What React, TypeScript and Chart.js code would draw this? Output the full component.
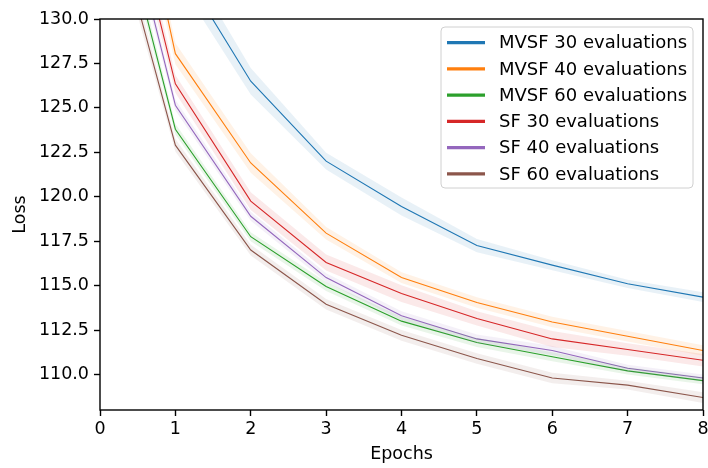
import React, { useEffect, useRef } from "react";
import { Chart, registerables } from "chart.js";

Chart.register(...registerables);

const epochs = [0, 1, 2, 3, 4, 5, 6, 7, 8];
const yTicks = [110, 112.5, 115, 117.5, 120, 122.5, 125, 127.5, 130];

const seriesNames = [
  "MVSF 30 evaluations",
  "MVSF 40 evaluations",
  "MVSF 60 evaluations",
  "SF 30 evaluations",
  "SF 40 evaluations",
  "SF 60 evaluations",
];
const seriesColors = ["#1f77b4", "#ff7f0e", "#2ca02c", "#d62728", "#9467bd", "#8c564b"];

const mvsf30 = [152, 133.4, 126.5, 122.0, 119.45, 117.25, 116.15, 115.1, 114.35];
const mvsf40 = [147.5, 128.05, 121.9, 117.95, 115.45, 114.05, 112.95, 112.15, 111.35];
const mvsf60 = [140.4, 123.8, 117.75, 114.95, 113.0, 111.8, 111.0, 110.2, 109.65];
const sf30 = [143.6, 126.35, 119.75, 116.3, 114.55, 113.15, 112.0, 111.4, 110.8];
const sf40 = [142.1, 125.15, 118.9, 115.45, 113.3, 112.0, 111.35, 110.35, 109.8];
const sf60 = [138.6, 122.9, 117.0, 113.95, 112.2, 110.9, 109.8, 109.4, 108.7];

const mvsf30Spread = [1.5, 1.0, 0.75, 0.47, 0.5, 0.37, 0.28, 0.23, 0.28];
const mvsf40Spread = [1.2, 0.6, 0.55, 0.35, 0.3, 0.3, 0.3, 0.3, 0.3];
const mvsf60Spread = [0.8, 0.3, 0.25, 0.25, 0.25, 0.25, 0.25, 0.2, 0.2];
const sf30Spread = [1.0, 0.5, 0.5, 0.45, 0.47, 0.4, 0.45, 0.35, 0.35];
const sf40Spread = [0.8, 0.3, 0.25, 0.25, 0.25, 0.25, 0.25, 0.2, 0.2];
const sf60Spread = [0.8, 0.35, 0.3, 0.3, 0.3, 0.3, 0.3, 0.25, 0.3];

const seriesMeans = [mvsf30, mvsf40, mvsf60, sf30, sf40, sf60];
const seriesSpreads = [mvsf30Spread, mvsf40Spread, mvsf60Spread, sf30Spread, sf40Spread, sf60Spread];

const FONT = "'DejaVu Sans', sans-serif";
const FS = 17.5;
const LEGEND_FS = 18;

function hexA(hex: string, a: number) {
  const r = parseInt(hex.slice(1, 3), 16);
  const g = parseInt(hex.slice(3, 5), 16);
  const b = parseInt(hex.slice(5, 7), 16);
  return `rgba(${r},${g},${b},${a})`;
}

const framePlugin = {
  id: "frameAndLegend",
  afterDraw(chart: any) {
    const { ctx, chartArea } = chart;
    ctx.save();
    ctx.strokeStyle = "#000";
    ctx.lineWidth = 1.4;
    ctx.strokeRect(chartArea.left, chartArea.top, chartArea.right - chartArea.left, chartArea.bottom - chartArea.top);

    // legend
    const bx = 441, by = 27, bw = 252, bh = 161, r = 4;
    ctx.beginPath();
    ctx.moveTo(bx + r, by);
    ctx.lineTo(bx + bw - r, by);
    ctx.quadraticCurveTo(bx + bw, by, bx + bw, by + r);
    ctx.lineTo(bx + bw, by + bh - r);
    ctx.quadraticCurveTo(bx + bw, by + bh, bx + bw - r, by + bh);
    ctx.lineTo(bx + r, by + bh);
    ctx.quadraticCurveTo(bx, by + bh, bx, by + bh - r);
    ctx.lineTo(bx, by + r);
    ctx.quadraticCurveTo(bx, by, bx + r, by);
    ctx.closePath();
    ctx.fillStyle = "rgba(255,255,255,0.8)";
    ctx.fill();
    ctx.strokeStyle = "#d0d0d0";
    ctx.lineWidth = 1;
    ctx.stroke();

    ctx.font = `${LEGEND_FS}px ${FONT}`;
    ctx.textBaseline = "middle";
    ctx.textAlign = "left";
    seriesNames.forEach((name, i) => {
      const y = 42.7 + i * 26.25;
      ctx.strokeStyle = seriesColors[i];
      ctx.lineWidth = 3.2;
      ctx.beginPath();
      ctx.moveTo(447, y);
      ctx.lineTo(485, y);
      ctx.stroke();
      ctx.fillStyle = "#000";
      ctx.fillText(name, 499, y + 1);
    });
    ctx.restore();
  },
};

export default function App() {
  const ref = useRef<HTMLCanvasElement>(null);

  useEffect(() => {
    const datasets: any[] = [];
    seriesMeans.forEach((mean, i) => {
      const spread = seriesSpreads[i];
      const color = seriesColors[i];
      datasets.push({
        label: seriesNames[i] + " lower",
        data: epochs.map((x, j) => ({ x, y: mean[j] - spread[j] })),
        borderColor: "rgba(0,0,0,0)",
        borderWidth: 0,
        pointRadius: 0,
        fill: false,
      });
      datasets.push({
        label: seriesNames[i] + " upper",
        data: epochs.map((x, j) => ({ x, y: mean[j] + spread[j] })),
        borderColor: "rgba(0,0,0,0)",
        borderWidth: 0,
        pointRadius: 0,
        backgroundColor: hexA(color, 0.1),
        fill: "-1",
      });
    });
    seriesMeans.forEach((mean, i) => {
      datasets.push({
        label: seriesNames[i],
        data: epochs.map((x, j) => ({ x, y: mean[j] })),
        borderColor: seriesColors[i],
        borderWidth: 1.1,
        pointRadius: 0,
        fill: false,
        tension: 0,
      });
    });

    const chart = new Chart(ref.current!, {
      type: "line",
      data: { datasets },
      plugins: [framePlugin],
      options: {
        animation: false,
        responsive: false,
        layout: { padding: { top: 19, right: 5, left: 0, bottom: 0 } },
        plugins: { legend: { display: false }, tooltip: { enabled: false } },
        scales: {
          x: {
            type: "linear",
            min: 0,
            max: 8,
            afterFit: (s: any) => { s.height = 58; s.paddingRight = 0; s.paddingLeft = 0; },
            afterBuildTicks: (s: any) => { s.ticks = epochs.map((v) => ({ value: v })); },
            border: { display: false },
            grid: { drawOnChartArea: false, drawTicks: true, tickLength: 6, tickWidth: 1.4, tickColor: "#000" },
            ticks: {
              color: "#000",
              font: { family: FONT, size: FS },
              padding: 3,
              maxRotation: 0,
              callback: (v: any) => String(v),
            },
            title: {
              display: true,
              text: "Epochs",
              color: "#000",
              font: { family: FONT, size: FS },
              padding: { top: 0, bottom: 3 },
            },
          },
          y: {
            type: "linear",
            min: 108,
            max: 130,
            afterFit: (s: any) => { s.width = 100; s.paddingTop = 0; s.paddingBottom = 0; },
            afterBuildTicks: (s: any) => { s.ticks = yTicks.map((v) => ({ value: v })); },
            border: { display: false },
            grid: { drawOnChartArea: false, drawTicks: true, tickLength: 6, tickWidth: 1.4, tickColor: "#000" },
            ticks: {
              color: "#000",
              font: { family: FONT, size: FS },
              padding: 5,
              callback: (v: any) => Number(v).toFixed(1),
            },
            title: {
              display: true,
              text: "Loss",
              color: "#000",
              font: { family: FONT, size: FS },
              padding: { top: 10, bottom: 0 },
            },
          },
        },
      },
    });
    return () => chart.destroy();
  }, []);

  return (
    <div style={{ position: "absolute", left: 0, top: 0, width: 708, height: 468, background: "#fff" }}>
      <canvas ref={ref} width={708} height={468} style={{ width: 708, height: 468 }} />
    </div>
  );
}
